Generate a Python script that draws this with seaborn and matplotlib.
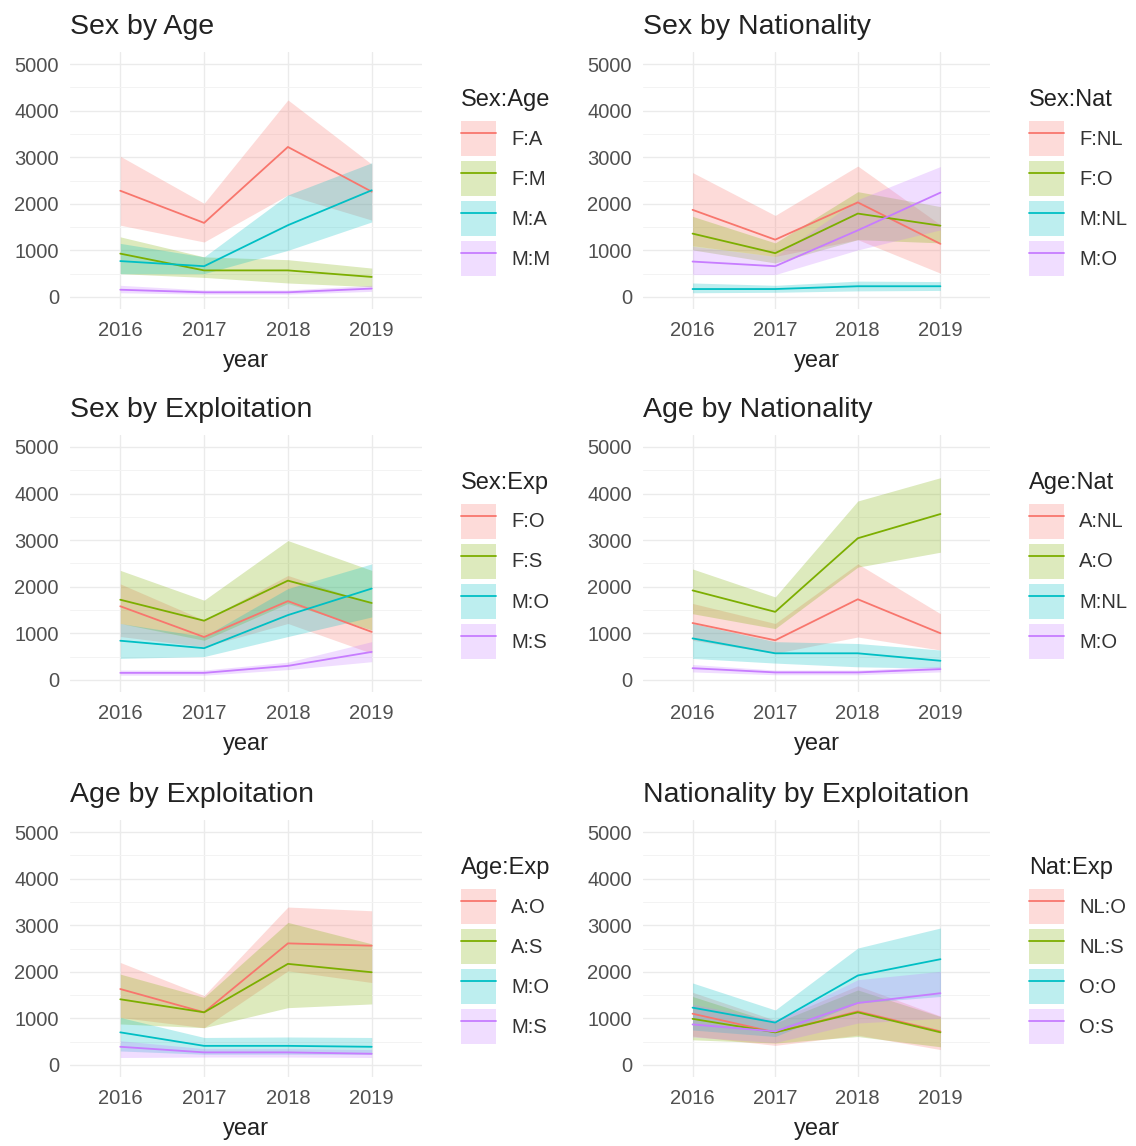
import matplotlib
matplotlib.use("Agg")
import matplotlib.pyplot as plt
import seaborn as sns
import pandas as pd
from matplotlib.patches import Patch
from matplotlib.lines import Line2D
from matplotlib.legend_handler import HandlerTuple
from matplotlib.ticker import MultipleLocator

years = [2016, 2017, 2018, 2019]
palette = ["#F8766D", "#7CAE00", "#00BFC4", "#C77CFF"]

# Sex by Age
sa_groups = ["F:A", "F:M", "M:A", "M:M"]
sa_mid = [[2280, 1590, 3220, 2260], [930, 570, 570, 430], [770, 660, 1540, 2290], [155, 100, 100, 180]]
sa_lo = [[1540, 1180, 2190, 1650], [500, 420, 300, 220], [500, 500, 1000, 1610], [90, 60, 60, 120]]
sa_hi = [[3020, 2010, 4230, 2850], [1290, 860, 800, 620], [1150, 860, 2190, 2880], [250, 150, 150, 250]]

# Sex by Nationality
sn_groups = ["F:NL", "F:O", "M:NL", "M:O"]
sn_mid = [[1870, 1230, 2030, 1140], [1360, 940, 1790, 1530], [170, 170, 230, 230], [760, 660, 1430, 2240]]
sn_lo = [[1100, 870, 1230, 510], [1010, 730, 1230, 1160], [90, 100, 130, 140], [480, 480, 1010, 1440]]
sn_hi = [[2670, 1750, 2810, 1550], [1730, 1160, 2260, 1940], [300, 250, 340, 330], [1090, 870, 2090, 2800]]

# Sex by Exploitation
se_groups = ["F:O", "F:S", "M:O", "M:S"]
se_mid = [[1580, 920, 1690, 1030], [1720, 1270, 2130, 1650], [840, 680, 1390, 1960], [150, 150, 300, 600]]
se_lo = [[930, 710, 1210, 570], [1210, 850, 1640, 1070], [460, 500, 930, 1350], [100, 100, 220, 390]]
se_hi = [[2060, 1280, 2240, 1640], [2350, 1710, 2990, 2350], [1210, 930, 1960, 2490], [210, 210, 380, 820]]

# Age by Nationality
an_groups = ["A:NL", "A:O", "M:NL", "M:O"]
an_mid = [[1220, 850, 1730, 1000], [1920, 1460, 3040, 3560], [890, 570, 570, 410], [250, 160, 160, 230]]
an_lo = [[850, 570, 920, 640], [1420, 1100, 2420, 2740], [460, 360, 280, 250], [170, 110, 110, 170]]
an_hi = [[1640, 1210, 2490, 1420], [2380, 1780, 3840, 4340], [1210, 820, 780, 640], [330, 210, 210, 290]]

# Age by Exploitation
ae_groups = ["A:O", "A:S", "M:O", "M:S"]
ae_mid = [[1630, 1130, 2610, 2560], [1410, 1130, 2170, 1990], [700, 410, 410, 390], [390, 270, 270, 240]]
ae_lo = [[1020, 800, 2020, 1770], [880, 800, 1230, 1310], [300, 230, 230, 230], [160, 170, 170, 160]]
ae_hi = [[2200, 1490, 3390, 3310], [1950, 1450, 3060, 2600], [1020, 590, 600, 590], [520, 350, 350, 330]]

# Nationality by Exploitation
ne_groups = ["NL:O", "NL:S", "O:O", "O:S"]
ne_mid = [[1100, 700, 1150, 720], [990, 700, 1130, 700], [1230, 910, 1920, 2270], [870, 720, 1330, 1540]]
ne_lo = [[620, 420, 640, 330], [540, 470, 610, 390], [750, 610, 1330, 1470], [600, 480, 900, 1000]]
ne_hi = [[1560, 960, 1700, 1050], [1470, 900, 1610, 1040], [1760, 1180, 2510, 2940], [1300, 960, 1830, 2010]]

panels = [
    ("Sex by Age", "Sex:Age", sa_groups, sa_mid, sa_lo, sa_hi),
    ("Sex by Nationality", "Sex:Nat", sn_groups, sn_mid, sn_lo, sn_hi),
    ("Sex by Exploitation", "Sex:Exp", se_groups, se_mid, se_lo, se_hi),
    ("Age by Nationality", "Age:Nat", an_groups, an_mid, an_lo, an_hi),
    ("Age by Exploitation", "Age:Exp", ae_groups, ae_mid, ae_lo, ae_hi),
    ("Nationality by Exploitation", "Nat:Exp", ne_groups, ne_mid, ne_lo, ne_hi),
]

sns.set_theme(style="white")
plt.rcParams["font.family"] = ["Liberation Sans", "DejaVu Sans"]

fig = plt.figure(figsize=(11.36, 11.46), dpi=100)
W, H = 1136, 1146
col_x = [(70, 352), (643, 347)]
row_y = [52.4, 435.3, 820.4]
panel_h = 256.2
alpha = 0.26

for i, (title, legtitle, groups, mid, lo, hi) in enumerate(panels):
    r, c = divmod(i, 2)
    x0, w = col_x[c]
    ax = fig.add_axes([x0 / W, 1 - (row_y[r] + panel_h) / H, w / W, panel_h / H])

    rows = []
    for g, m in zip(groups, mid):
        for y, v in zip(years, m):
            rows.append({"year": y, "n": v, "group": g})
    df = pd.DataFrame(rows)

    for k, g in enumerate(groups):
        ax.fill_between(years, lo[k], hi[k], color=palette[k], alpha=alpha, lw=0)
    sns.lineplot(data=df, x="year", y="n", hue="group", palette=palette,
                 hue_order=groups, lw=1.3, legend=False, ax=ax)

    ax.set_xlim(2015.4, 2019.6)
    ax.set_ylim(-250, 5250)
    ax.set_xticks(years)
    ax.set_yticks([0, 1000, 2000, 3000, 4000, 5000])
    ax.yaxis.set_minor_locator(MultipleLocator(500))
    ax.grid(True, which="major", color="#EBEBEB", lw=1.0)
    ax.grid(True, which="minor", axis="y", color="#F3F3F3", lw=0.7)
    ax.set_axisbelow(True)
    for s in ax.spines.values():
        s.set_visible(False)
    ax.tick_params(axis="both", which="both", length=0, labelsize=14.5, labelcolor="#505050")
    ax.tick_params(axis="x", pad=9)
    ax.tick_params(axis="y", pad=8)
    ax.set_xlabel("year", fontsize=17, color="#222222", labelpad=7)
    ax.set_ylabel("")
    ax.set_title(title, loc="left", fontsize=20.5, color="#222222", pad=13.5)

    handles = [(Patch(facecolor=palette[k], alpha=alpha, lw=0),
                Line2D([0], [0], color=palette[k], lw=1.3)) for k in range(4)]
    leg = ax.legend(handles, groups, title=legtitle, loc="upper left",
                    bbox_to_anchor=((w + 39) / w, 0.857), frameon=False,
                    handler_map={tuple: HandlerTuple(ndivide=1, pad=0)},
                    handlelength=1.75, handleheight=2.3, handletextpad=0.75,
                    labelspacing=0.25, fontsize=14.5, title_fontsize=17,
                    borderpad=0, borderaxespad=0, alignment="left")
    leg._legend_box.sep = 7
    leg.get_title().set_color("#222222")
    for t in leg.get_texts():
        t.set_color("#333333")

fig.savefig("out.png", dpi=100)
